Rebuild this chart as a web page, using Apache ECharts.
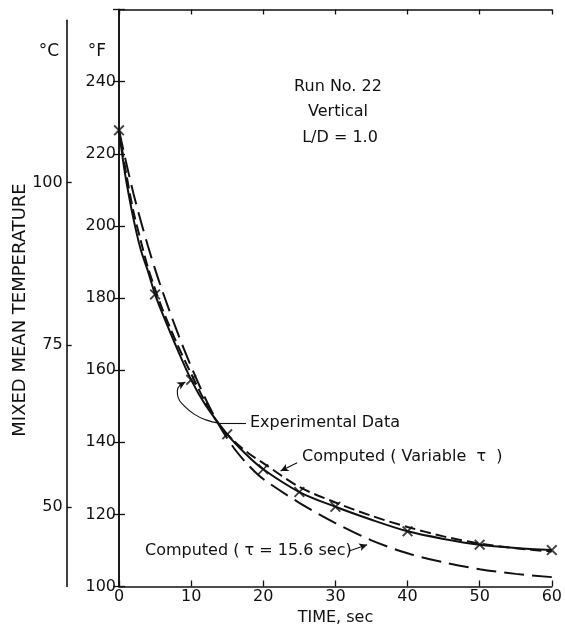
<!DOCTYPE html>
<html>
<head>
<meta charset="utf-8">
<script src="https://cdn.jsdelivr.net/npm/echarts@6/dist/echarts.min.js"></script>
<style>
  html, body { margin: 0; padding: 0; background: #fff; }
  #chart { width: 565px; height: 632px; }
</style>
</head>
<body>
<div id="chart"></div>
<script>
// experimental points (x marks) and the curve drawn through them
const expTime = [0, 5, 10, 15, 20, 25, 30, 40, 50, 60]
const expTemp = [226.5, 181, 157.3, 142.2, 132.5, 126.2, 122.1, 115.3, 111.6, 110.1]

const curveTime = [0, 0.5, 1, 2, 3, 4, 5, 6, 8, 10, 12, 15, 17.5, 20, 25, 30, 35, 40, 45, 50, 55, 60]
const curveTemp = [226.5, 219, 212.5, 202, 193.5, 187.5, 181, 175.8, 166.2, 157.3, 150.3, 142.2, 136.9, 132.5, 126.2, 122.1, 118.5, 115.3, 113.2, 111.6, 110.7, 110.1]

// computed curves
const calcTime = [0, 1, 2, 3, 4, 5, 6, 8, 10, 12, 14, 16, 18, 20, 25, 30, 35, 40, 45, 50, 55, 60]
const varTauTemp = [226.5, 214.5, 204, 196, 188.5, 182.5, 177, 167.5, 159, 151, 144.5, 140.2, 136.9, 134.2, 127.6, 123.3, 119.6, 116.5, 113.9, 111.9, 110.6, 109.7]
const constTauTemp = [226.5, 217.5, 209, 201.5, 194.5, 188, 182, 171, 161, 152, 144.3, 138.2, 133.5, 129.8, 123.2, 117.6, 112.8, 109.2, 106.7, 104.8, 103.5, 102.6]

// axes
const fMin = 100, fMax = 260, fStep = 20
const tMin = 0, tMax = 60, tStep = 10
const cTicks = [50, 75, 100]
const cMax = 125

// annotation leaders in data units
const expLeader = [[17.6, 145.3], [13.84, 145.3]]
const loopTime = [13.84, 12.05, 10.41, 9.04, 8.22, 8.08, 8.49]
const loopTemp = [145.3, 146.2, 147.8, 150.1, 152.3, 154.2, 155.9]
const loopArrow = [[8.49, 155.9], [9.2, 156.7]]
const varArrow = [[24.7, 134.3], [22.4, 132.0]]
const constArrow = [[32.0, 109.9], [34.4, 111.6]]

const FONT = 'DejaVu Sans'
const INK = '#111'

const pair = (xs, ys) => xs.map((x, i) => [x, ys[i]])

const gridTop = 9.5, gridBottom = 45.5
const plotH = 632 - gridTop - gridBottom
const pxPerF = plotH / (fMax - fMin)
const cMin = (fMin - 32) / 1.8
const cGridTop = 632 - gridBottom - (cMax - cMin) * 1.8 * pxPerF

const xMark = 'path://M0,1.2 L1.2,0 L5,3.8 L8.8,0 L10,1.2 L6.2,5 L10,8.8 L8.8,10 L5,6.2 L1.2,10 L0,8.8 L3.8,5 Z'

const arrowEnd = { symbol: 'arrow', symbolSize: [6, 8] }

const chart = echarts.init(document.getElementById('chart'))
chart.setOption({
  animation: false,
  backgroundColor: '#fff',
  textStyle: { fontFamily: FONT, color: INK },
  grid: [
    { left: 119, right: 9, top: gridTop, bottom: gridBottom },
    { left: 66.7, width: 1, top: cGridTop, bottom: gridBottom }
  ],
  xAxis: [
    {
      type: 'value', gridIndex: 0, min: tMin, max: tMax, interval: tStep,
      name: 'TIME, sec', nameLocation: 'middle', nameGap: 22,
      nameTextStyle: { fontSize: 16, color: INK, fontFamily: FONT },
      axisLine: { lineStyle: { color: INK, width: 1.6 } },
      axisTick: { inside: true, length: 6, lineStyle: { color: INK, width: 1.3 } },
      axisLabel: { color: INK, fontSize: 16, margin: 2, fontFamily: FONT },
      splitLine: { show: false }
    },
    {
      type: 'value', gridIndex: 0, position: 'top', min: tMin, max: tMax, interval: tStep,
      axisLine: { show: true, lineStyle: { color: INK, width: 1.6 } },
      axisTick: { inside: true, length: 5, lineStyle: { color: INK, width: 1.3 } },
      axisLabel: { show: false },
      splitLine: { show: false }
    },
    {
      type: 'value', gridIndex: 1, show: false, min: 0, max: 1
    }
  ],
  yAxis: [
    {
      type: 'value', gridIndex: 0, min: fMin, max: fMax, interval: fStep,
      axisLine: { show: true, lineStyle: { color: INK, width: 1.6 } },
      axisTick: { inside: true, length: 6, lineStyle: { color: INK, width: 1.3 } },
      axisLabel: {
        color: INK, fontSize: 16, margin: 3, fontFamily: FONT,
        formatter: v => (v === fMax ? '' : String(v))
      },
      splitLine: { show: false }
    },
    {
      type: 'value', gridIndex: 0, position: 'right', min: fMin, max: fMax, interval: fStep,
      axisLine: { show: true, lineStyle: { color: INK, width: 1.6 } },
      axisTick: { inside: true, length: 6, lineStyle: { color: INK, width: 1.3 } },
      axisLabel: { show: false },
      splitLine: { show: false }
    },
    {
      type: 'value', gridIndex: 1, min: cMin, max: cMax,
      axisLine: { show: true, lineStyle: { color: INK, width: 1.6 } },
      axisTick: { inside: true, length: 5, customValues: cTicks, lineStyle: { color: INK, width: 1.3 } },
      axisLabel: { color: INK, fontSize: 16, margin: 4, fontFamily: FONT, customValues: cTicks },
      splitLine: { show: false }
    }
  ],
  graphic: [
    { type: 'text', x: 20, y: 310, rotation: Math.PI / 2,
      style: { text: 'MIXED MEAN TEMPERATURE', fontSize: 18, fontFamily: FONT, fill: INK, align: 'center', verticalAlign: 'middle' } },
    { type: 'text', x: 49, y: 52,
      style: { text: '°C', fontSize: 17, fontFamily: FONT, fill: INK, align: 'center', verticalAlign: 'middle' } },
    { type: 'text', x: 97, y: 52,
      style: { text: '°F', fontSize: 17, fontFamily: FONT, fill: INK, align: 'center', verticalAlign: 'middle' } },
    { type: 'text', x: 338, y: 87,
      style: { text: 'Run No. 22', fontSize: 16, fontFamily: FONT, fill: INK, align: 'center', verticalAlign: 'middle' } },
    { type: 'text', x: 338, y: 112,
      style: { text: 'Vertical', fontSize: 16, fontFamily: FONT, fill: INK, align: 'center', verticalAlign: 'middle' } },
    { type: 'text', x: 340, y: 138,
      style: { text: 'L/D = 1.0', fontSize: 16, fontFamily: FONT, fill: INK, align: 'center', verticalAlign: 'middle' } },
    { type: 'text', x: 250, y: 423,
      style: { text: 'Experimental Data', fontSize: 16, fontFamily: FONT, fill: INK, align: 'left', verticalAlign: 'middle' } },
    { type: 'text', x: 302, y: 457,
      style: { text: 'Computed ( Variable  τ  )', fontSize: 16, fontFamily: FONT, fill: INK, align: 'left', verticalAlign: 'middle' } },
    { type: 'text', x: 145, y: 551,
      style: { text: 'Computed ( τ = 15.6 sec)', fontSize: 16, fontFamily: FONT, fill: INK, align: 'left', verticalAlign: 'middle' } }
  ],
  series: [
    {
      name: 'Experimental curve', type: 'line', smooth: 0.3, showSymbol: false, silent: true,
      data: pair(curveTime, curveTemp),
      lineStyle: { color: INK, width: 2 },
      markLine: {
        silent: true, symbol: ['none', 'none'], label: { show: false },
        lineStyle: { color: INK, width: 1.1, type: 'solid' },
        data: [
          [{ coord: expLeader[0] }, { coord: expLeader[1] }],
          [{ coord: loopArrow[0] }, Object.assign({ coord: loopArrow[1] }, arrowEnd)],
          [{ coord: varArrow[0] }, Object.assign({ coord: varArrow[1] }, arrowEnd)],
          [{ coord: constArrow[0] }, Object.assign({ coord: constArrow[1] }, arrowEnd)]
        ]
      }
    },
    {
      name: 'leader', type: 'line', smooth: 0.5, showSymbol: false, silent: true,
      data: pair(loopTime, loopTemp),
      lineStyle: { color: INK, width: 1.1 }
    },
    {
      name: 'Experimental Data', type: 'scatter', silent: true,
      symbol: xMark, symbolSize: 11,
      data: pair(expTime, expTemp),
      itemStyle: { color: INK }
    },
    {
      name: 'Computed (Variable τ)', type: 'line', smooth: 0.3, showSymbol: false, silent: true,
      data: pair(calcTime, varTauTemp),
      lineStyle: { color: INK, width: 2, type: [11, 5] }
    },
    {
      name: 'Computed (τ = 15.6 sec)', type: 'line', smooth: 0.3, showSymbol: false, silent: true,
      data: pair(calcTime, constTauTemp),
      lineStyle: { color: INK, width: 2, type: [20, 8] }
    }
  ]
})
</script>
</body>
</html>
